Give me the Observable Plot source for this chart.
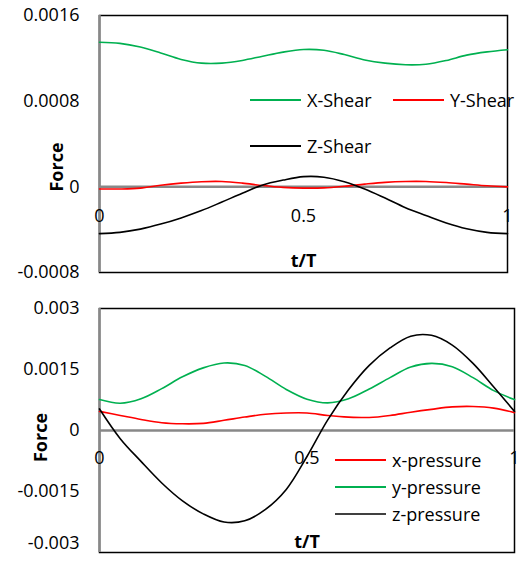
<!DOCTYPE html>
<html>
<head>
<meta charset="utf-8">
<script src="https://cdn.jsdelivr.net/npm/d3@7"></script>
<script src="https://cdn.jsdelivr.net/npm/@observablehq/plot@0.6"></script>
<style>
  body { margin: 0; background: #fff; }
  #wrap { position: relative; width: 519px; height: 561px; font-family: "Open Sans", sans-serif; }
  #wrap svg { display: block; position: absolute; left: 0; }
  .leg { position: absolute; display: flex; align-items: center; font-size: 18px; color: #000; transform: translateY(-50%); white-space: nowrap; }
  .leg span.sw { display: inline-block; width: 51px; height: 0; border-top: 2px solid; margin-right: 6px; }
</style>
</head>
<body>
<div id="wrap"></div>
<script>
// ---- data ----
const tPoints = [0,0.05,0.1,0.15,0.2,0.25,0.3,0.35,0.4,0.45,0.5,0.55,0.6,0.65,0.7,0.75,0.8,0.85,0.9,0.95,1];

const shearSeries = ["X-Shear", "Y-Shear", "Z-Shear"];
const shearColors = ["#00b050", "#ff0000", "#000000"];
const xShear = [0.001350,0.001340,0.001305,0.001250,0.001190,0.001155,0.001155,0.001180,0.001220,0.001258,0.001282,0.001275,0.001235,0.001185,0.001155,0.001140,0.001145,0.001180,0.001230,0.001260,0.001280];
const yShear = [-0.000020,-0.000020,-0.000012,0.000015,0.000035,0.000048,0.000050,0.000035,0.000012,-0.000005,-0.000012,-0.000010,0.000005,0.000025,0.000042,0.000050,0.000050,0.000040,0.000025,0.000010,0.000000];
const zShear = [-0.000437,-0.000425,-0.000395,-0.000348,-0.000290,-0.000222,-0.000142,-0.000060,0.000018,0.000063,0.000095,0.000090,0.000048,-0.000020,-0.000105,-0.000195,-0.000268,-0.000338,-0.000392,-0.000425,-0.000437];

const pressureSeries = ["x-pressure", "y-pressure", "z-pressure"];
const pressureColors = ["#ff0000", "#00b050", "#000000"];
const xPressure = [0.00047,0.00037,0.00027,0.00019,0.000165,0.000175,0.00025,0.00033,0.00040,0.00043,0.00043,0.00037,0.00033,0.00032,0.00037,0.00045,0.00052,0.00058,0.00059,0.00055,0.00044];
const yPressure = [0.00076,0.00067,0.00078,0.00103,0.00132,0.00154,0.00166,0.00160,0.00133,0.00101,0.00077,0.00068,0.00078,0.00102,0.00130,0.00156,0.00165,0.00157,0.00130,0.00098,0.00076];
const zPressure = [0.00053,-0.00020,-0.00076,-0.00129,-0.00173,-0.00205,-0.00225,-0.00222,-0.00194,-0.00145,-0.00064,0.00026,0.00100,0.00160,0.00203,0.00232,0.00234,0.00210,0.00165,0.00107,0.00047];

const xTicks = [0, 0.5, 1];
const shearYTicks = [-0.0008, 0, 0.0008, 0.0016];
const pressureYTicks = [-0.003, -0.0015, 0, 0.0015, 0.003];
const xLabel = "t/T";
const yLabel = "Force";

// ---- helpers ----
function toRows(names, arrays) {
  const rows = [];
  names.forEach((n, i) => arrays[i].forEach((v, j) => rows.push({series: n, t: tPoints[j], v})));
  return rows;
}
const fmt = d => String(d);

function panel({rows, names, colors, yDomain, yTicks, width, height, mt, mr, mb, ml, xLabDy, tDy, forceDx, forceDy, lowTickDy}) {
  const low = d3.min(yTicks);
  return Plot.plot({
    width, height,
    marginTop: mt, marginRight: mr, marginBottom: mb, marginLeft: ml,
    style: {fontFamily: "Open Sans, sans-serif", fontSize: "18px", color: "#000", background: "#fff", overflow: "visible"},
    x: {domain: [0, 1], axis: null},
    y: {domain: yDomain, axis: null},
    color: {domain: names, range: colors},
    marks: [
      Plot.frame({stroke: "#000", strokeWidth: 1.5}),
      Plot.ruleY([0], {stroke: "#888", strokeWidth: 2.5}),
      Plot.ruleX([0], {stroke: "#888", strokeWidth: 2.5}),
      Plot.axisY({ticks: yTicks.filter(d => d !== low), label: null, tickSize: 0, tickPadding: 20, tickFormat: fmt, fontSize: 18}),
      Plot.axisY({ticks: [low], label: null, tickSize: 0, tickPadding: 20, tickFormat: fmt, fontSize: 18, dy: lowTickDy}),
      Plot.text(xTicks, {x: d => d, y: () => 0, dy: xLabDy, text: fmt, fontSize: 18}),
      Plot.lineY(rows, {x: "t", y: "v", z: "series", stroke: "series", strokeWidth: 1.6, curve: "catmull-rom"}),
      Plot.text([xLabel], {frameAnchor: "bottom", lineAnchor: "middle", dy: tDy, text: d => d, fontWeight: "bold", fontSize: 18}),
      Plot.text([yLabel], {frameAnchor: "left", textAnchor: "middle", lineAnchor: "middle", dx: forceDx, dy: forceDy, rotate: -90, text: d => d, fontWeight: "bold", fontSize: 18})
    ]
  });
}

const wrap = document.getElementById("wrap");

const topChart = panel({
  rows: toRows(shearSeries, [xShear, yShear, zShear]),
  names: shearSeries, colors: shearColors,
  yDomain: [-0.0008, 0.0016], yTicks: shearYTicks,
  width: 519, height: 280, mt: 15, mr: 12, mb: 8, ml: 99,
  xLabDy: 29, tDy: -11, forceDx: -42, forceDy: 23, lowTickDy: 0
});
topChart.style.top = "0px";
wrap.appendChild(topChart);

const bottomChart = panel({
  rows: toRows(pressureSeries, [xPressure, yPressure, zPressure]),
  names: pressureSeries, colors: pressureColors,
  yDomain: [-0.003, 0.003], yTicks: pressureYTicks,
  width: 519, height: 281, mt: 28, mr: 5, mb: 9, ml: 99,
  xLabDy: 28, tDy: -10.5, forceDx: -58, forceDy: 7, lowTickDy: -9
});
bottomChart.style.top = "280px";
wrap.appendChild(bottomChart);

// ---- legends ----
function legendItem(label, color, left, y) {
  const d = document.createElement("div");
  d.className = "leg";
  d.style.left = left + "px";
  d.style.top = y + "px";
  const sw = document.createElement("span");
  sw.className = "sw";
  sw.style.borderTopColor = color;
  d.appendChild(sw);
  d.appendChild(document.createTextNode(label));
  wrap.appendChild(d);
}
legendItem(shearSeries[0], shearColors[0], 250, 100);
legendItem(shearSeries[1], shearColors[1], 393, 100);
legendItem(shearSeries[2], shearColors[2], 250, 146);
legendItem(pressureSeries[0], pressureColors[0], 335, 460);
legendItem(pressureSeries[1], pressureColors[1], 335, 487);
legendItem(pressureSeries[2], "#404040", 335, 514);
</script>
</body>
</html>
